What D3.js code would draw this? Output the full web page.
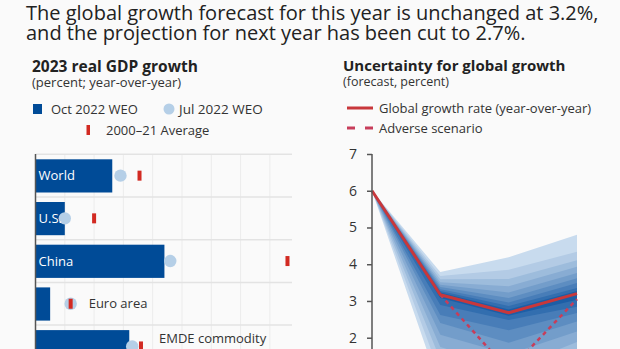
<!DOCTYPE html>
<html><head><meta charset="utf-8">
<script src="https://cdn.jsdelivr.net/npm/d3@7"></script>
<style>
html,body{margin:0;padding:0;background:#fafafa;}
svg{display:block;font-family:"Open Sans","Noto Sans",sans-serif;}
</style></head>
<body><svg id="c" width="620" height="349"></svg>
<script>
// ---------- data ----------
const titleLines = ["The global growth forecast for this year is unchanged at 3.2%,",
                    "and the projection for next year has been cut to 2.7%."];
// left panel
const regions   = ["World", "U.S.", "China", "Euro area", "EMDE commodity exporters"];
const oct2022   = [2.62, 1.0, 4.4, 0.5, 3.2];
const jul2022   = [2.9, 1.0, 4.6, 1.2, 3.3];
const avg0021   = [3.55, 2.0, 8.6, 1.2, 3.6];
const gdpTicks  = [1, 2, 3, 4, 5, 6, 7, 8];
// right panel
const years     = ["2021", "2022", "2023", "2024"];
const baseline  = [6.0, 3.17, 2.68, 3.2];
const adverseYears = ["2022", "2023", "2024"];
const adverse   = [3.17, 1.1, 3.05];
// fan bands, outer -> inner, each value per year
const fanUpper = [
  [6.0, 3.79, 4.19, 4.80],
  [6.0, 3.68, 3.85, 4.34],
  [6.0, 3.59, 3.60, 4.11],
  [6.0, 3.51, 3.40, 3.93],
  [6.0, 3.44, 3.23, 3.76],
  [6.0, 3.38, 3.08, 3.62],
  [6.0, 3.32, 2.96, 3.49],
  [6.0, 3.27, 2.86, 3.35],
  [6.0, 3.23, 2.77, 3.27]
];
const fanLower = [
  [6.0, 0.6, -0.3, 0.3],
  [6.0, 1.0, 0.2, 0.9],
  [6.0, 1.4, 0.7, 1.4],
  [6.0, 1.75, 1.15, 1.88],
  [6.0, 2.08, 1.55, 2.17],
  [6.0, 2.4, 1.86, 2.44],
  [6.0, 2.62, 2.2, 2.67],
  [6.0, 2.89, 2.48, 2.84],
  [6.0, 3.08, 2.6, 3.03]
];
const yTicks = [0, 1, 2, 3, 4, 5, 6, 7];

// ---------- styles ----------
const C = {text:"#222", sub:"#333", bar:"#004b97", dot:"#b5cfe7", red:"#d22a22",
           line:"#c8373b", dash:"#c73d5a", axis:"#555", grid:"#ececec", sep:"#e3e3e3"};

const svg = d3.select("#c");
svg.append("rect").attr("width",620).attr("height",349).attr("fill","#fafafa");

// title
svg.append("g").selectAll("text").data(titleLines).join("text")
  .attr("x", 26).attr("y", (d,i)=>20 + i*19.5)
  .attr("font-size", 20).attr("fill", C.text).text(d=>d);

// ---------- left panel ----------
const L = svg.append("g");
L.append("text").attr("x",32).attr("y",72).attr("font-size",15.5).attr("font-weight",700)
  .attr("fill",C.text).text("2023 real GDP growth");
L.append("text").attr("x",32).attr("y",87).attr("font-size",13).attr("fill",C.sub)
  .text("(percent; year-over-year)");
// legend
L.append("rect").attr("x",33).attr("y",104).attr("width",9).attr("height",10).attr("fill",C.bar);
L.append("text").attr("x",51).attr("y",114).attr("font-size",13).attr("fill",C.sub).text("Oct 2022 WEO");
L.append("circle").attr("cx",169).attr("cy",109).attr("r",5.5).attr("fill",C.dot);
L.append("text").attr("x",179).attr("y",114).attr("font-size",13.5).attr("fill",C.sub).text("Jul 2022 WEO");
L.append("rect").attr("x",86.5).attr("y",125).attr("width",3.5).attr("height",10).attr("fill",C.red);
L.append("text").attr("x",106).attr("y",135).attr("font-size",13).attr("fill",C.sub).text("2000\u201321 Average");

const x = d3.scaleLinear().domain([0, 9]).range([35.5, 299.2]);
const y = d3.scaleBand().domain(regions).range([154.3, 154.3 + 42.7*regions.length]).paddingInner(0).paddingOuter(0);
const barPad = 5;

// vertical grid
L.append("g").selectAll("line").data(gdpTicks).join("line")
  .attr("x1",d=>x(d)).attr("x2",d=>x(d)).attr("y1",154).attr("y2",349)
  .attr("stroke",C.grid).attr("stroke-width",1);
// separators
L.append("g").selectAll("line").data(regions).join("line")
  .attr("x1",x(0)).attr("x2",292).attr("y1",d=>y(d)).attr("y2",d=>y(d))
  .attr("stroke",C.sep).attr("stroke-width",1.5);

// bars
L.append("g").selectAll("rect").data(regions).join("rect")
  .attr("x",x(0)).attr("y",d=>y(d)+barPad)
  .attr("width",(d,i)=>x(oct2022[i])-x(0)).attr("height",y.bandwidth()-2*barPad+0.5)
  .attr("fill",C.bar);
// dots
L.append("g").selectAll("circle").data(regions).join("circle")
  .attr("cx",(d,i)=>x(jul2022[i])).attr("cy",d=>y(d)+y.bandwidth()/2)
  .attr("r",6.2).attr("fill",C.dot);
// avg ticks
L.append("g").selectAll("rect").data(regions).join("rect")
  .attr("x",(d,i)=>x(avg0021[i])-2).attr("y",d=>y(d)+y.bandwidth()/2-5)
  .attr("width",4).attr("height",10).attr("fill",C.red);
// axis line
L.append("line").attr("x1",x(0)).attr("x2",x(0)).attr("y1",154).attr("y2",349)
  .attr("stroke",C.axis).attr("stroke-width",1.5);

// labels
const lab = L.append("g").selectAll("text").data(regions).join("text")
  .attr("font-size",13);
lab.each(function(d,i){
  const t = d3.select(this);
  const words = d === "EMDE commodity exporters" ? ["EMDE commodity","exporters"] : [d];
  const yc = y(d)+y.bandwidth()/2 + 4.5 - (words.length-1)*7.5;
  t.attr("y", yc);
  t.selectAll("tspan").data(words).join("tspan").attr("dy",(w,j)=>j? 15 : 0).text(w=>w);
  const w = this.getBBox().width;
  const barW = x(oct2022[i]) - x(0);
  if (w < barW) {
    t.attr("x", x(0)+3).attr("fill","#fff");
    t.selectAll("tspan").attr("x", x(0)+3);
  } else {
    const xm = x(d3.max([oct2022[i], jul2022[i], avg0021[i]])) + 18;
    t.attr("x", xm).attr("fill",C.sub);
    t.selectAll("tspan").attr("x", xm);
  }
});

// ---------- right panel ----------
const R = svg.append("g");
R.append("text").attr("x",343).attr("y",71).attr("font-size",15).attr("font-weight",700)
  .attr("fill",C.text).text("Uncertainty for global growth");
R.append("text").attr("x",343).attr("y",86).attr("font-size",12.5).attr("fill",C.sub)
  .text("(forecast, percent)");
R.append("line").attr("x1",347).attr("x2",373).attr("y1",108).attr("y2",108)
  .attr("stroke",C.line).attr("stroke-width",3);
R.append("text").attr("x",379).attr("y",113).attr("font-size",13).attr("fill",C.sub)
  .text("Global growth rate (year-over-year)");
R.append("line").attr("x1",347).attr("x2",373).attr("y1",128).attr("y2",128)
  .attr("stroke",C.dash).attr("stroke-width",3).attr("stroke-dasharray","8,10");
R.append("text").attr("x",379).attr("y",133).attr("font-size",13).attr("fill",C.sub)
  .text("Adverse scenario");

const xs = d3.scalePoint().domain(years).range([372, 577]);
const ys = d3.scaleLinear().domain([0, 7]).range([411.2, 154]);

const fanColor = d3.scaleLinear().domain([0, fanUpper.length-1])
  .range(["#c8dbee", "#1d5ea6"]).interpolate(d3.interpolateRgb);
const area = d3.area().x((d,i)=>xs(years[i])).y0(d=>ys(d[0])).y1(d=>ys(d[1]));
R.append("g").selectAll("path").data(fanUpper).join("path")
  .attr("d",(u,k)=>area(u.map((v,i)=>[fanLower[k][i], v])))
  .attr("fill",(d,k)=>fanColor(k));

const line = d3.line().x(d=>xs(d[0])).y(d=>ys(d[1]));
R.append("path").attr("d",line(adverseYears.map((yy,i)=>[yy,adverse[i]])))
  .attr("fill","none").attr("stroke",C.dash).attr("stroke-width",2.5).attr("stroke-dasharray","4,4");
R.append("path").attr("d",line(years.map((yy,i)=>[yy,baseline[i]])))
  .attr("fill","none").attr("stroke",C.line).attr("stroke-width",3).attr("stroke-linejoin","round");

const ax = R.append("g").attr("transform","translate(372,0)")
  .call(d3.axisLeft(ys).tickValues(yTicks).tickFormat(d3.format("d")).tickSize(5).tickPadding(10));
ax.select(".domain").attr("stroke",C.axis).attr("stroke-width",1.5)
  .attr("d", `M-0,${ys(7)}V${ys(0)}`);
ax.selectAll(".tick line").attr("stroke",C.axis).attr("stroke-width",1.5);
ax.selectAll(".tick text").attr("font-size",14).attr("fill",C.sub)
  .attr("font-family","'Open Sans','Noto Sans',sans-serif");
</script></body></html>
